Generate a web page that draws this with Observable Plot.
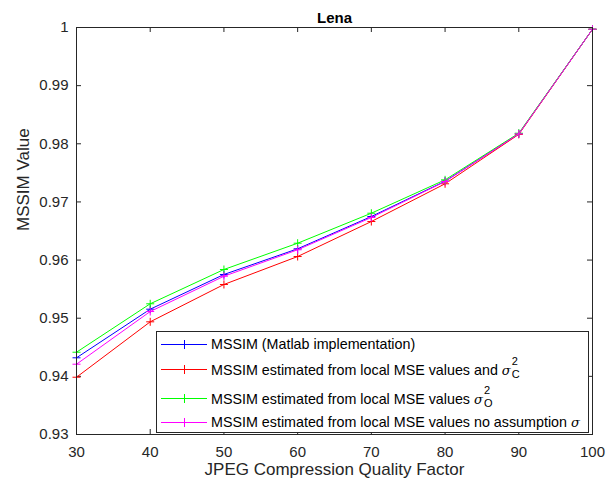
<!DOCTYPE html>
<html><head><meta charset="utf-8">
<script src="https://cdn.jsdelivr.net/npm/d3@7"></script>
<script src="https://cdn.jsdelivr.net/npm/@observablehq/plot@0.6"></script>
<style>
body{margin:0;background:#fff;}
#wrap{position:relative;width:615px;height:491px;font-family:"Liberation Sans",Arial,sans-serif;}
#legend{position:absolute;left:156px;top:331px;width:433px;height:102px;border:1px solid #262626;background:#fff;box-sizing:border-box;font-size:14.3px;color:#000;}
.row{position:absolute;left:0;height:20px;width:430px;white-space:nowrap;}
.row svg{position:absolute;left:3px;top:0;}
.row .lab{position:absolute;left:54px;top:2px;line-height:16px;}
.sig{font-family:"DejaVu Serif",serif;font-style:italic;font-size:13px;}
.sc{display:inline-block;position:relative;width:10px;height:14px;vertical-align:baseline;}
.sc .sup{position:absolute;left:1px;top:-8px;font-size:11px;}
.sc .sub{position:absolute;left:1px;top:5px;font-size:11px;}
</style>
</head><body>
<div id="wrap"><div id="chart"></div><div id="legend"></div></div>
<script>
const quality = [30, 40, 50, 60, 70, 80, 90, 100];
const mssimMatlab   = [0.94319, 0.95155, 0.95752, 0.96194, 0.96749, 0.97356, 0.98172, 0.9997];
const mssimSigmaC   = [0.93985, 0.94938, 0.95580, 0.96061, 0.96663, 0.97312, 0.98162, 0.9997];
const mssimSigmaO   = [0.94415, 0.95248, 0.95838, 0.96290, 0.96806, 0.97380, 0.98182, 0.9997];
const mssimNoAssume = [0.94209, 0.95115, 0.95722, 0.96177, 0.96732, 0.97351, 0.98170, 0.9997];
const seriesColors = ["#0000ff", "#ff0000", "#00ff00", "#ff00ff"];
const seriesLabels = [
  'MSSIM (Matlab implementation)',
  'MSSIM estimated from local MSE values and <span class="sig">σ</span><span class="sc"><span class="sup">2</span><span class="sub">C</span></span>',
  'MSSIM estimated from local MSE values <span class="sig">σ</span><span class="sc"><span class="sup">2</span><span class="sub">O</span></span>',
  'MSSIM estimated from local MSE values no assumption <span class="sig">σ</span>'
];
const xTicks = [30, 40, 50, 60, 70, 80, 90, 100];
const yTicks = [0.93, 0.94, 0.95, 0.96, 0.97, 0.98, 0.99, 1];
const yTickLabels = ["0.93", "0.94", "0.95", "0.96", "0.97", "0.98", "0.99", "1"];
const titleText = "Lena";
const xLabel = "JPEG Compression Quality Factor";
const yLabel = "MSSIM Value";

const allSeries = [mssimMatlab, mssimSigmaC, mssimSigmaO, mssimNoAssume];
const W = 615, H = 491, mL = 76, mR = 23, mT = 27, mB = 57;
const pH = H - mT - mB, pW = W - mL - mR;
const axisColor = "#262626";

const plus = {draw(ctx, size) {
  const r = Math.sqrt(size / Math.PI);
  ctx.moveTo(-r, 0); ctx.lineTo(r, 0);
  ctx.moveTo(0, -r); ctx.lineTo(0, r);
}};

const dataMarks = [];
allSeries.forEach((vals, s) => {
  const rows = vals.map((v, i) => ({q: quality[i], v}));
  dataMarks.push(Plot.line(rows, {x: "q", y: "v", stroke: seriesColors[s], strokeWidth: 1}));
  dataMarks.push(Plot.dot(rows, {x: "q", y: "v", symbol: plus, r: 4, stroke: seriesColors[s], fill: "none", strokeWidth: 1}));
});

const chart = Plot.plot({
  width: W, height: H,
  marginLeft: mL, marginRight: mR, marginTop: mT, marginBottom: mB,
  style: {fontFamily: '"Liberation Sans", Arial, sans-serif', fontSize: "15px", color: axisColor, background: "#fff", overflow: "visible"},
  x: {domain: [30, 100]},
  y: {domain: [0.93, 1]},
  marks: [
    Plot.axisX(xTicks, {tickSize: 0, tickPadding: 12, fontSize: 15, label: null}),
    Plot.axisY(yTicks, {tickSize: 0, tickPadding: 8, fontSize: 15, label: null,
      tickFormat: d => yTickLabels[yTicks.indexOf(d)]}),
    Plot.tickX(xTicks, {x: d => d, insetTop: pH - 5, stroke: axisColor}),
    Plot.tickX(xTicks, {x: d => d, insetBottom: pH - 5, stroke: axisColor}),
    Plot.tickY(yTicks, {y: d => d, insetRight: pW - 5, stroke: axisColor}),
    Plot.tickY(yTicks, {y: d => d, insetLeft: pW - 5, stroke: axisColor}),
    ...dataMarks,
    Plot.frame({stroke: axisColor}),
    Plot.text([titleText], {frameAnchor: "top", dy: -15, fontWeight: "bold", fontSize: 15, fill: "#000"}),
    Plot.text([xLabel], {frameAnchor: "bottom", dy: 40, fontSize: 17, fill: axisColor}),
    Plot.text([yLabel], {frameAnchor: "left", dx: -53, rotate: -90, fontSize: 17, fill: axisColor})
  ]
});
document.getElementById("chart").appendChild(chart);

// legend (decoration)
const rowCenters = [12, 36.5, 65.5, 90];
const legend = document.getElementById("legend");
seriesLabels.forEach((lab, s) => {
  const row = document.createElement("div");
  row.className = "row";
  row.style.top = (rowCenters[s] - 10) + "px";
  const c = seriesColors[s];
  row.innerHTML = `<svg width="48" height="20"><line x1="1" x2="47" y1="10.5" y2="10.5" stroke="${c}" stroke-width="1"/>` +
    `<line x1="20" x2="28" y1="10.5" y2="10.5" stroke="${c}"/><line x1="24.5" x2="24.5" y1="6" y2="15" stroke="${c}"/></svg>` +
    `<span class="lab">${lab}</span>`;
  legend.appendChild(row);
});
</script>
</body></html>
